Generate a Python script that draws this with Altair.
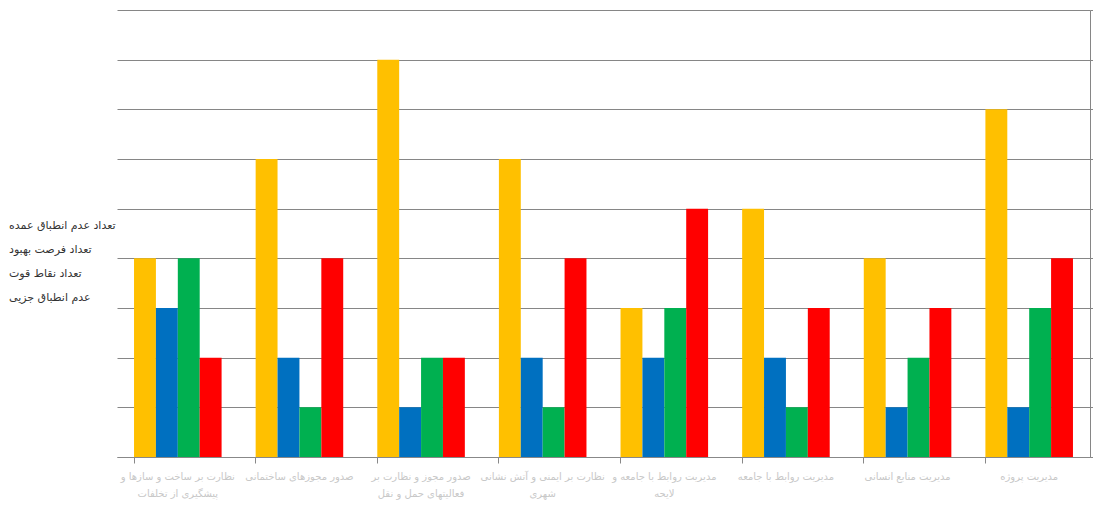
import altair as alt
import pandas as pd

categories = [
    "نظارت بر ساخت و سازها و|پیشگیری از تخلفات",
    "صدور مجوزهای ساختمانی",
    "صدور مجوز و نظارت بر|فعالیتهای حمل و نقل",
    "نظارت بر ایمنی و آتش نشانی|شهری",
    "مدیریت روابط با جامعه و|لایحه",
    "مدیریت روابط با جامعه",
    "مدیریت منابع انسانی",
    "مدیریت پروژه",
]
series = ["تعداد عدم انطباق عمده", "تعداد فرصت بهبود", "تعداد نقاط قوت", "عدم انطباق جزیی"]
colors = ["#FFC000", "#0070C0", "#00B050", "#FF0000"]

major_nc = [4, 6, 8, 6, 3, 5, 4, 7]
improvement = [3, 2, 1, 2, 2, 2, 1, 1]
strengths = [4, 1, 2, 1, 3, 1, 2, 3]
minor_nc = [2, 4, 2, 4, 5, 3, 3, 4]

rows = []
for s, vals in zip(series, [major_nc, improvement, strengths, minor_nc]):
    for c, v in zip(categories, vals):
        rows.append({"category": c, "series": s, "value": v})
df = pd.DataFrame(rows)

chart = alt.Chart(df).mark_bar().encode(
    x=alt.X("category:N", sort=categories,
            scale=alt.Scale(paddingInner=0.28, paddingOuter=0.14),
            axis=alt.Axis(title=None, labelAngle=0, bandPosition=0,
                          labelExpr="split(datum.label, '|')",
                          labelColor="#c8c8c8", labelFont="DejaVu Sans",
                          labelFontSize=10, labelLineHeight=17, labelPadding=8,
                          domainColor="#888888", tickColor="#888888", tickSize=6,
                          labelLimit=200)),
    xOffset=alt.XOffset("series:N", sort=series,
                        scale=alt.Scale(paddingInner=0, paddingOuter=0)),
    y=alt.Y("value:Q", scale=alt.Scale(domain=[0, 9], nice=False),
            axis=alt.Axis(title=None, orient="right", labels=False,
                          values=list(range(10)), grid=True,
                          gridColor="#868686", domainColor="#868686",
                          tickColor="#868686", tickSize=7)),
    color=alt.Color("series:N", sort=series,
                    scale=alt.Scale(domain=series, range=colors),
                    legend=alt.Legend(title=None, orient="none", legendX=-120,
                                      legendY=210, symbolType="square",
                                      symbolSize=2, symbolOpacity=0.4,
                                      labelOffset=1, padding=0,
                                      labelFontSize=11,
                                      labelFont="DejaVu Sans", labelColor="#333333",
                                      rowPadding=12, labelLimit=200)),
).properties(
    width=973, height=447,
    autosize=alt.AutoSizeParams(type="none"),
    padding={"left": 109, "top": 2, "right": 3, "bottom": 50},
).configure_view(stroke=None)

chart.save("out.html", embed_options={"renderer": "svg", "actions": False})
